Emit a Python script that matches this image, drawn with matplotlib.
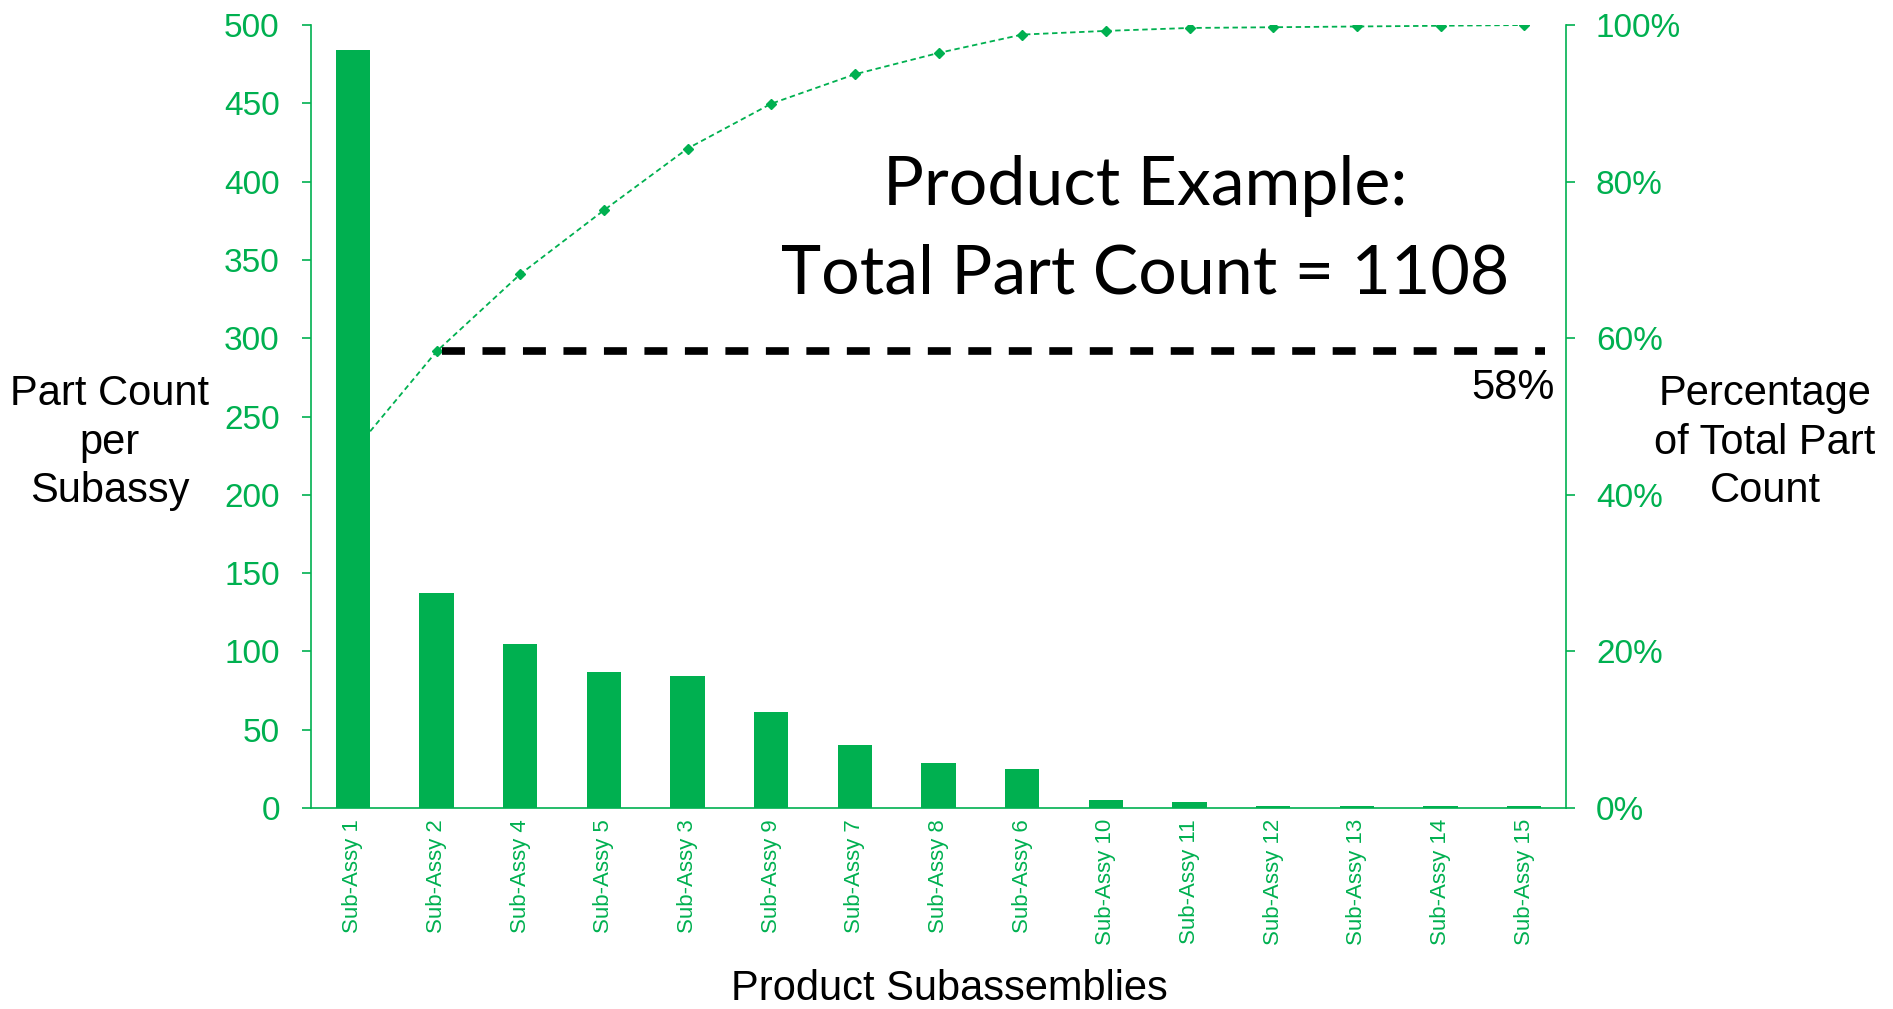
import matplotlib.pyplot as plt
from matplotlib.ticker import PercentFormatter
import numpy as np

# pareto of part count per subassembly
green = '#00B050'

subassys = ['Sub-Assy 1', 'Sub-Assy 2', 'Sub-Assy 4', 'Sub-Assy 5', 'Sub-Assy 3',
            'Sub-Assy 9', 'Sub-Assy 7', 'Sub-Assy 8', 'Sub-Assy 6', 'Sub-Assy 10',
            'Sub-Assy 11', 'Sub-Assy 12', 'Sub-Assy 13', 'Sub-Assy 14', 'Sub-Assy 15']
part_counts = [484, 137, 105, 87, 84, 61, 40, 29, 25, 5, 4, 1, 1, 1, 1]
total_parts = 1108

left_label = ['Part Count', 'per', 'Subassy']
right_label = ['Percentage', 'of Total Part', 'Count']

x = np.arange(len(subassys))
cum_pct = np.cumsum(part_counts) / np.sum(part_counts)

plt.rcParams['font.family'] = 'Liberation Sans'

fig = plt.figure(figsize=(18.93, 10.09), dpi=100)
ax = fig.add_axes([0.1643, 0.1992, 0.663, 0.776])
ax2 = ax.twinx()
# bars in front of the cumulative line
ax.set_zorder(ax2.get_zorder() + 1)
ax.patch.set_visible(False)

ax.bar(x, part_counts, width=0.41, color=green, zorder=3)

ax2.plot(x, cum_pct, color=green, lw=1.3, ls=(0, (3, 2)),
         marker='D', ms=5, zorder=2)

# 58% reference line from the second subassembly
ax2.plot([1.07, 14.25], [cum_pct[1], cum_pct[1]], color='black', lw=5.5,
         ls=(0, (3, 2.3)), dash_capstyle='butt')
ax2.text(14.36, 0.536, f'{cum_pct[1]:.0%}', ha='right', va='center', fontsize=30)

ax.set_xlim(-0.5, 14.5)
ax.set_ylim(0, 500)
ax.set_yticks(np.arange(0, 501, 50))
ax2.set_ylim(0, 1)
ax2.set_yticks(np.arange(0, 1.01, 0.2))
ax2.yaxis.set_major_formatter(PercentFormatter(1.0, decimals=0))

ax.set_xticks(x, subassys, rotation=90)
ax.tick_params(axis='x', length=0, pad=8, labelsize=16, labelcolor=green)
ax.tick_params(axis='y', colors=green, labelsize=24, length=6.5, width=1.2, pad=16)
ax2.tick_params(axis='y', colors=green, labelsize=24, length=6.5, width=1.2, pad=15)

for a in (ax, ax2):
    a.spines['top'].set_visible(False)
    for s in ('left', 'right', 'bottom'):
        a.spines[s].set_color(green)
        a.spines[s].set_linewidth(1.2)
ax.spines['right'].set_visible(False)
ax2.spines['left'].set_visible(False)
ax2.spines['bottom'].set_visible(False)

# axis titles, one line at a time
baselines = [405, 454, 502]
for line, yb in zip(left_label, baselines):
    fig.text(110 / 1893, 1 - yb / 1009, line, ha='center', va='baseline', fontsize=30)
for line, yb in zip(right_label, baselines):
    fig.text(1765 / 1893, 1 - yb / 1009, line, ha='center', va='baseline', fontsize=30)
fig.text(949 / 1893, 1 - 1000 / 1009, 'Product Subassemblies', ha='center',
         va='baseline', fontsize=30)

fig.text(1145 / 1893, 1 - 205 / 1009, 'Product Example:', ha='center',
         va='baseline', fontsize=49, family='Lato')
fig.text(1145 / 1893, 1 - 293 / 1009, f'Total Part Count = {total_parts}', ha='center',
         va='baseline', fontsize=49, family='Lato')

fig.savefig('out.png', dpi=100)
